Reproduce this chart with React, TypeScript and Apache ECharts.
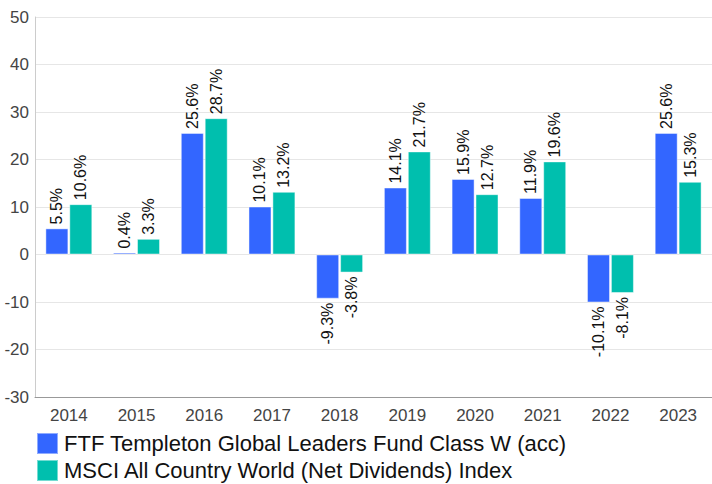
import React, { useEffect, useRef } from "react";
import * as echarts from "echarts";

const categories = ["2014", "2015", "2016", "2017", "2018", "2019", "2020", "2021", "2022", "2023"];
const fundValues = [5.5, 0.4, 25.6, 10.1, -9.3, 14.1, 15.9, 11.9, -10.1, 25.6];
const indexValues = [10.6, 3.3, 28.7, 13.2, -3.8, 21.7, 12.7, 19.6, -8.1, 15.3];
const seriesNames = [
  "FTF Templeton Global Leaders Fund Class W (acc)",
  "MSCI All Country World (Net Dividends) Index",
];
const colors = ["#3366FF", "#00BFAE"];

const FONT = 'Arial, "Liberation Sans", sans-serif';

function toData(values: number[]) {
  return values.map((v) =>
    v < 0
      ? { value: v, label: { position: "bottom", align: "right" } }
      : { value: v }
  );
}

export default function App() {
  const ref = useRef<HTMLDivElement>(null);
  useEffect(() => {
    if (!ref.current) return;
    const chart = echarts.init(ref.current, null, { renderer: "svg" });
    const mkSeries = (name: string, values: number[], color: string) => ({
      name,
      type: "bar",
      data: toData(values),
      barWidth: 23,
      barGap: "4%",
      itemStyle: { color, borderColor: "rgba(255,255,255,0.45)", borderWidth: 1 },
      label: {
        show: true,
        position: "top",
        rotate: 90,
        align: "left",
        verticalAlign: "middle",
        distance: 4,
        fontSize: 16,
        fontFamily: FONT,
        color: "#111",
        formatter: (p: any) => `${Number(p.value).toFixed(1)}%`,
      },
    });
    chart.setOption({
      animation: false,
      textStyle: { fontFamily: FONT },
      grid: { left: 35, right: -4, top: 17, bottom: 87, containLabel: false },
      legend: {
        orient: "vertical",
        left: 36,
        top: 432,
        padding: 0,
        itemWidth: 21,
        itemHeight: 21,
        itemGap: 4,
        icon: "rect",
        textStyle: { fontSize: 22, color: "#111", fontFamily: FONT, padding: [0, 0, 0, 1] },
        data: seriesNames,
      },
      xAxis: {
        type: "category",
        data: categories,
        axisLine: { onZero: false, lineStyle: { color: "#999" } },
        axisTick: { show: false },
        axisLabel: { fontSize: 17, color: "#444", fontFamily: FONT, margin: 10 },
      },
      yAxis: {
        type: "value",
        min: -30,
        max: 50,
        interval: 10,
        axisLine: { show: true, lineStyle: { color: "#ccc" } },
        axisTick: { show: false },
        axisLabel: { fontSize: 17, color: "#444", fontFamily: FONT, margin: 6 },
        splitLine: { lineStyle: { color: "#e6e6e6" } },
      },
      series: [
        mkSeries(seriesNames[0], fundValues, colors[0]),
        mkSeries(seriesNames[1], indexValues, colors[1]),
      ],
    });
    return () => chart.dispose();
  }, []);
  return (
    <div
      ref={ref}
      style={{ position: "absolute", left: 0, top: 0, width: 712, height: 484 }}
    />
  );
}
